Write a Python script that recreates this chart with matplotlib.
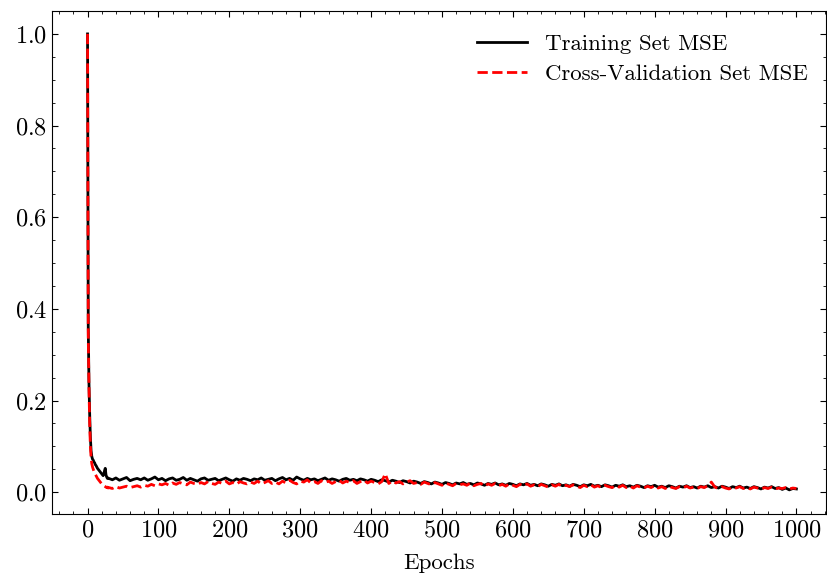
import matplotlib

matplotlib.use("Agg")
import matplotlib.pyplot as plt
import numpy as np
from matplotlib.ticker import AutoMinorLocator, MultipleLocator

# epochs: every epoch for the initial drop, then every 5 epochs
epochs = list(range(0, 30)) + list(range(30, 1001, 5))

train_mse = [
    1.0, 0.36, 0.24, 0.17, 0.12, 0.09, 0.078, 0.072, 0.070, 0.066,
    0.064, 0.060, 0.058, 0.055, 0.052, 0.050, 0.048, 0.046, 0.044, 0.042,
    0.040, 0.038, 0.036, 0.040, 0.047, 0.052, 0.038, 0.033, 0.030, 0.031,
    # 30 .. 975 step 5
    0.030, 0.027, 0.031, 0.026, 0.029, 0.032, 0.025, 0.028, 0.030, 0.027,
    0.031, 0.026, 0.029, 0.033, 0.027, 0.030, 0.025, 0.029, 0.031, 0.026,
    0.028, 0.032, 0.026, 0.030, 0.027, 0.024, 0.029, 0.031, 0.026, 0.028,
    0.030, 0.025, 0.028, 0.031, 0.027, 0.024, 0.029, 0.026, 0.030, 0.028,
    0.025, 0.029, 0.027, 0.031, 0.026, 0.028, 0.030, 0.025, 0.029, 0.032,
    0.027, 0.030, 0.026, 0.033, 0.029, 0.026, 0.030, 0.027, 0.029, 0.025,
    0.028, 0.031, 0.026, 0.029, 0.027, 0.024, 0.028, 0.030, 0.026, 0.028,
    0.025, 0.029, 0.027, 0.024, 0.028, 0.026, 0.023, 0.027, 0.025, 0.022,
    0.026, 0.024, 0.021, 0.025, 0.023, 0.020, 0.024, 0.022, 0.019, 0.023,
    0.021, 0.018, 0.022, 0.020, 0.017, 0.021, 0.019, 0.016, 0.020, 0.018,
    0.021, 0.017, 0.019, 0.016, 0.020, 0.018, 0.015, 0.019, 0.017, 0.020,
    0.016, 0.018, 0.015, 0.019, 0.017, 0.014, 0.018, 0.016, 0.019, 0.015,
    0.017, 0.014, 0.018, 0.016, 0.013, 0.017, 0.015, 0.018, 0.014, 0.016,
    0.013, 0.017, 0.015, 0.012, 0.016, 0.014, 0.017, 0.013, 0.015, 0.012,
    0.016, 0.014, 0.011, 0.015, 0.013, 0.016, 0.012, 0.014, 0.011, 0.015,
    0.013, 0.010, 0.014, 0.012, 0.015, 0.011, 0.013, 0.010, 0.014, 0.012,
    0.009, 0.013, 0.011, 0.014, 0.010, 0.012, 0.009, 0.013, 0.011, 0.014,
    0.010, 0.012, 0.009, 0.013, 0.011, 0.008, 0.012, 0.010, 0.013, 0.009,
    0.011, 0.008, 0.012, 0.010, 0.007, 0.011, 0.009, 0.012, 0.008, 0.010,
    0.006, 0.009, 0.005, 0.008, 0.007,
]

cv_mse = [
    1.0, 0.34, 0.23, 0.15, 0.10, 0.075, 0.062, 0.055, 0.050, 0.046,
    0.042, 0.039, 0.036, 0.033, 0.030, 0.028, 0.026, 0.024, 0.022, 0.020,
    0.018, 0.017, 0.015, 0.014, 0.013, 0.012, 0.011, 0.010, 0.011, 0.009,
    # 30 .. 975 step 5
    0.010, 0.008, 0.012, 0.009, 0.011, 0.013, 0.010, 0.012, 0.014, 0.011,
    0.015, 0.013, 0.017, 0.014, 0.018, 0.016, 0.019, 0.015, 0.020, 0.017,
    0.021, 0.018, 0.016, 0.022, 0.019, 0.017, 0.021, 0.018, 0.023, 0.019,
    0.017, 0.022, 0.019, 0.024, 0.018, 0.021, 0.017, 0.023, 0.020, 0.018,
    0.022, 0.019, 0.024, 0.018, 0.021, 0.025, 0.019, 0.022, 0.018, 0.024,
    0.020, 0.026, 0.021, 0.018, 0.024, 0.022, 0.027, 0.020, 0.023, 0.019,
    0.025, 0.021, 0.024, 0.019, 0.023, 0.026, 0.020, 0.024, 0.021, 0.025,
    0.019, 0.023, 0.026, 0.020, 0.024, 0.021, 0.018, 0.023, 0.040, 0.019,
    0.024, 0.020, 0.023, 0.018, 0.022, 0.025, 0.019, 0.021, 0.017, 0.022,
    0.019, 0.016, 0.021, 0.018, 0.015, 0.020, 0.017, 0.014, 0.019, 0.016,
    0.018, 0.015, 0.020, 0.014, 0.017, 0.019, 0.013, 0.018, 0.015, 0.019,
    0.014, 0.017, 0.013, 0.018, 0.015, 0.012, 0.017, 0.014, 0.018, 0.013,
    0.016, 0.012, 0.017, 0.014, 0.011, 0.016, 0.013, 0.017, 0.012, 0.015,
    0.012, 0.016, 0.013, 0.010, 0.015, 0.012, 0.016, 0.011, 0.014, 0.010,
    0.015, 0.012, 0.010, 0.014, 0.011, 0.015, 0.010, 0.013, 0.009, 0.014,
    0.011, 0.009, 0.013, 0.010, 0.014, 0.009, 0.012, 0.008, 0.013, 0.010,
    0.008, 0.012, 0.009, 0.013, 0.009, 0.011, 0.008, 0.012, 0.010, 0.014,
    0.022, 0.011, 0.008, 0.012, 0.009, 0.007, 0.011, 0.009, 0.012, 0.008,
    0.010, 0.007, 0.011, 0.009, 0.006, 0.010, 0.008, 0.011, 0.007, 0.009,
    0.008, 0.010, 0.007, 0.009, 0.008,
]

plt.rcParams.update({
    "font.family": "serif",
    "font.serif": ["cmr10"],
    "mathtext.fontset": "cm",
    "axes.formatter.use_mathtext": True,
    "font.size": 17,
    "xtick.direction": "in",
    "ytick.direction": "in",
    "xtick.top": True,
    "ytick.right": True,
    "xtick.major.size": 4,
    "ytick.major.size": 4,
    "xtick.minor.size": 2,
    "ytick.minor.size": 2,
    "axes.linewidth": 0.8,
})

fig = plt.figure(figsize=(8.27, 5.79), dpi=100)
ax = fig.add_axes([0.063, 0.112, 0.936, 0.869])

ax.plot(epochs, train_mse, color="black", lw=2.0, label="Training Set MSE")
ax.plot(epochs, cv_mse, color="red", lw=2.0, ls="--",
        label="Cross-Validation Set MSE")

ax.set_xlim(-50, 1042)
ax.set_ylim(-0.048, 1.05)
ax.xaxis.set_major_locator(MultipleLocator(100))
ax.yaxis.set_major_locator(MultipleLocator(0.2))
ax.xaxis.set_minor_locator(AutoMinorLocator(5))
ax.yaxis.set_minor_locator(AutoMinorLocator(4))
ax.tick_params(labelsize=17.5)
ax.set_xlabel("Epochs", fontsize=16.5, labelpad=9)
ax.legend(loc="upper right", bbox_to_anchor=(1.008, 1.003), frameon=False,
          fontsize=16.5, handlelength=2.2, borderaxespad=0.65,
          labelspacing=0.45)

fig.savefig("out.png", dpi=100)
